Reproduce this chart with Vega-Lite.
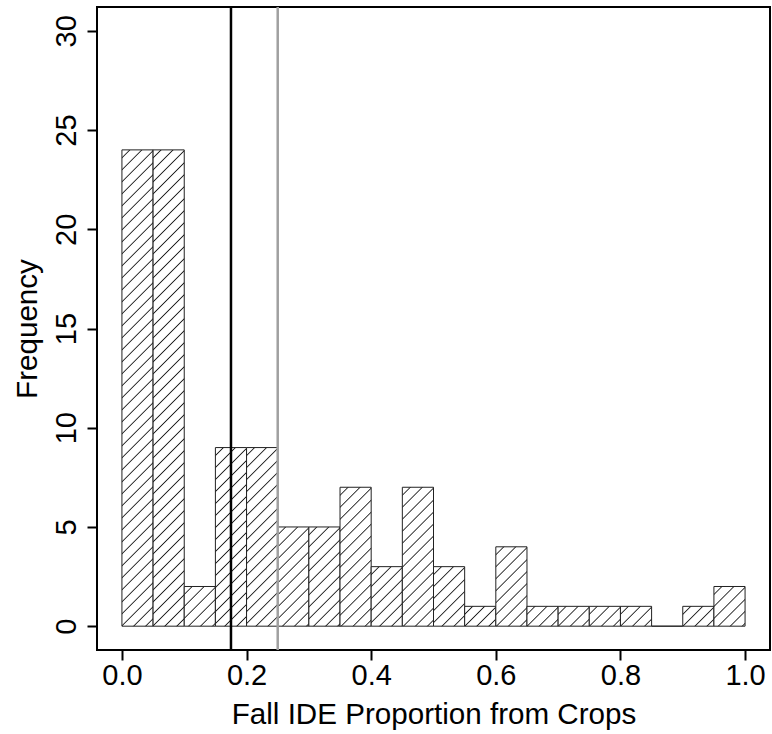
{
  "$schema": "https://vega.github.io/schema/vega-lite/v6.json",
  "autosize": {"type": "none"},
  "width": 673,
  "height": 643,
  "padding": {"left": 97, "top": 7, "right": 2, "bottom": 84},
  "background": "white",
  "config": {
    "view": {"stroke": "black", "strokeWidth": 2},
    "font": "Liberation Sans",
    "axis": {"grid": false, "domain": false, "tickColor": "black", "tickWidth": 2, "tickSize": 10, "labelColor": "black", "titleColor": "black", "labelFontSize": 29, "titleFontSize": 29.6, "titleFontWeight": "normal", "labelFont": "Liberation Sans", "titleFont": "Liberation Sans"}
  },
  "datasets": {
    "hist": [
      {"bin_start": 0.00, "bin_end": 0.05, "count": 24},
      {"bin_start": 0.05, "bin_end": 0.10, "count": 24},
      {"bin_start": 0.10, "bin_end": 0.15, "count": 2},
      {"bin_start": 0.15, "bin_end": 0.20, "count": 9},
      {"bin_start": 0.20, "bin_end": 0.25, "count": 9},
      {"bin_start": 0.25, "bin_end": 0.30, "count": 5},
      {"bin_start": 0.30, "bin_end": 0.35, "count": 5},
      {"bin_start": 0.35, "bin_end": 0.40, "count": 7},
      {"bin_start": 0.40, "bin_end": 0.45, "count": 3},
      {"bin_start": 0.45, "bin_end": 0.50, "count": 7},
      {"bin_start": 0.50, "bin_end": 0.55, "count": 3},
      {"bin_start": 0.55, "bin_end": 0.60, "count": 1},
      {"bin_start": 0.60, "bin_end": 0.65, "count": 4},
      {"bin_start": 0.65, "bin_end": 0.70, "count": 1},
      {"bin_start": 0.70, "bin_end": 0.75, "count": 1},
      {"bin_start": 0.75, "bin_end": 0.80, "count": 1},
      {"bin_start": 0.80, "bin_end": 0.85, "count": 1},
      {"bin_start": 0.85, "bin_end": 0.90, "count": 0},
      {"bin_start": 0.90, "bin_end": 0.95, "count": 1},
      {"bin_start": 0.95, "bin_end": 1.00, "count": 2}
    ],
    "marks": [
      {"proportion": 0.175, "line": "black"},
      {"proportion": 0.25, "line": "gray"}
    ]
  },
  "layer": [
    {
      "data": {"name": "hist"},
      "mark": {"type": "bar", "stroke": "#222", "strokeWidth": 1},
      "encoding": {
        "x": {"field": "bin_start", "type": "quantitative", "scale": {"domain": [-0.04, 1.04], "nice": false, "zero": false},
          "axis": {"values": [0, 0.2, 0.4, 0.6, 0.8, 1.0], "format": ".1f", "labelBaseline": "alphabetic", "labelPadding": 24, "title": "Fall IDE Proportion from Crops", "titleBaseline": "alphabetic", "titlePadding": 33}},
        "x2": {"field": "bin_end"},
        "y": {"field": "count", "type": "quantitative", "scale": {"domain": [-1.2, 31.2], "nice": false, "zero": false},
          "axis": {"values": [0, 5, 10, 15, 20, 25, 30], "labelAngle": -90, "labelAlign": "center", "labelBaseline": "alphabetic", "labelPadding": 12, "title": "Frequency", "titleAngle": -90, "titleBaseline": "alphabetic", "titlePadding": 16}},
        "y2": {"datum": 0},
        "fill": {
          "condition": [
            {"test": "datum.count === 24", "value": {"gradient": "linear", "x1": 0, "y1": 0, "x2": 0.069745, "y2": 1.0662, "stops": [
{"offset":0.0132,"color":"#fff"},{"offset":0.0157,"color":"#222"},{"offset":0.0182,"color":"#fff"},
{"offset":0.0367,"color":"#fff"},{"offset":0.0392,"color":"#222"},{"offset":0.0417,"color":"#fff"},
{"offset":0.0602,"color":"#fff"},{"offset":0.0627,"color":"#222"},{"offset":0.0652,"color":"#fff"},
{"offset":0.0838,"color":"#fff"},{"offset":0.0863,"color":"#222"},{"offset":0.0888,"color":"#fff"},
{"offset":0.1073,"color":"#fff"},{"offset":0.1098,"color":"#222"},{"offset":0.1123,"color":"#fff"},
{"offset":0.1308,"color":"#fff"},{"offset":0.1333,"color":"#222"},{"offset":0.1358,"color":"#fff"},
{"offset":0.1544,"color":"#fff"},{"offset":0.1569,"color":"#222"},{"offset":0.1594,"color":"#fff"},
{"offset":0.1779,"color":"#fff"},{"offset":0.1804,"color":"#222"},{"offset":0.1829,"color":"#fff"},
{"offset":0.2014,"color":"#fff"},{"offset":0.2039,"color":"#222"},{"offset":0.2064,"color":"#fff"},
{"offset":0.2250,"color":"#fff"},{"offset":0.2275,"color":"#222"},{"offset":0.2300,"color":"#fff"},
{"offset":0.2485,"color":"#fff"},{"offset":0.2510,"color":"#222"},{"offset":0.2535,"color":"#fff"},
{"offset":0.2720,"color":"#fff"},{"offset":0.2745,"color":"#222"},{"offset":0.2770,"color":"#fff"},
{"offset":0.2955,"color":"#fff"},{"offset":0.2980,"color":"#222"},{"offset":0.3005,"color":"#fff"},
{"offset":0.3191,"color":"#fff"},{"offset":0.3216,"color":"#222"},{"offset":0.3241,"color":"#fff"},
{"offset":0.3426,"color":"#fff"},{"offset":0.3451,"color":"#222"},{"offset":0.3476,"color":"#fff"},
{"offset":0.3661,"color":"#fff"},{"offset":0.3686,"color":"#222"},{"offset":0.3711,"color":"#fff"},
{"offset":0.3897,"color":"#fff"},{"offset":0.3922,"color":"#222"},{"offset":0.3947,"color":"#fff"},
{"offset":0.4132,"color":"#fff"},{"offset":0.4157,"color":"#222"},{"offset":0.4182,"color":"#fff"},
{"offset":0.4367,"color":"#fff"},{"offset":0.4392,"color":"#222"},{"offset":0.4417,"color":"#fff"},
{"offset":0.4602,"color":"#fff"},{"offset":0.4627,"color":"#222"},{"offset":0.4652,"color":"#fff"},
{"offset":0.4838,"color":"#fff"},{"offset":0.4863,"color":"#222"},{"offset":0.4888,"color":"#fff"},
{"offset":0.5073,"color":"#fff"},{"offset":0.5098,"color":"#222"},{"offset":0.5123,"color":"#fff"},
{"offset":0.5308,"color":"#fff"},{"offset":0.5333,"color":"#222"},{"offset":0.5358,"color":"#fff"},
{"offset":0.5544,"color":"#fff"},{"offset":0.5569,"color":"#222"},{"offset":0.5594,"color":"#fff"},
{"offset":0.5779,"color":"#fff"},{"offset":0.5804,"color":"#222"},{"offset":0.5829,"color":"#fff"},
{"offset":0.6014,"color":"#fff"},{"offset":0.6039,"color":"#222"},{"offset":0.6064,"color":"#fff"},
{"offset":0.6250,"color":"#fff"},{"offset":0.6275,"color":"#222"},{"offset":0.6300,"color":"#fff"},
{"offset":0.6485,"color":"#fff"},{"offset":0.6510,"color":"#222"},{"offset":0.6535,"color":"#fff"},
{"offset":0.6720,"color":"#fff"},{"offset":0.6745,"color":"#222"},{"offset":0.6770,"color":"#fff"},
{"offset":0.6955,"color":"#fff"},{"offset":0.6980,"color":"#222"},{"offset":0.7005,"color":"#fff"},
{"offset":0.7191,"color":"#fff"},{"offset":0.7216,"color":"#222"},{"offset":0.7241,"color":"#fff"},
{"offset":0.7426,"color":"#fff"},{"offset":0.7451,"color":"#222"},{"offset":0.7476,"color":"#fff"},
{"offset":0.7661,"color":"#fff"},{"offset":0.7686,"color":"#222"},{"offset":0.7711,"color":"#fff"},
{"offset":0.7897,"color":"#fff"},{"offset":0.7922,"color":"#222"},{"offset":0.7947,"color":"#fff"},
{"offset":0.8132,"color":"#fff"},{"offset":0.8157,"color":"#222"},{"offset":0.8182,"color":"#fff"},
{"offset":0.8367,"color":"#fff"},{"offset":0.8392,"color":"#222"},{"offset":0.8417,"color":"#fff"},
{"offset":0.8602,"color":"#fff"},{"offset":0.8627,"color":"#222"},{"offset":0.8652,"color":"#fff"},
{"offset":0.8838,"color":"#fff"},{"offset":0.8863,"color":"#222"},{"offset":0.8888,"color":"#fff"},
{"offset":0.9073,"color":"#fff"},{"offset":0.9098,"color":"#222"},{"offset":0.9123,"color":"#fff"},
{"offset":0.9308,"color":"#fff"},{"offset":0.9333,"color":"#222"},{"offset":0.9358,"color":"#fff"},
{"offset":0.9544,"color":"#fff"},{"offset":0.9569,"color":"#222"},{"offset":0.9594,"color":"#fff"},
{"offset":0.9779,"color":"#fff"},{"offset":0.9804,"color":"#222"},{"offset":0.9829,"color":"#fff"}
            ]}},
            {"test": "datum.count === 9", "value": {"gradient": "linear", "x1": 0, "y1": 0, "x2": 0.4834, "y2": 2.77113, "stops": [
{"offset":0.0132,"color":"#fff"},{"offset":0.0157,"color":"#222"},{"offset":0.0182,"color":"#fff"},
{"offset":0.0367,"color":"#fff"},{"offset":0.0392,"color":"#222"},{"offset":0.0417,"color":"#fff"},
{"offset":0.0602,"color":"#fff"},{"offset":0.0627,"color":"#222"},{"offset":0.0652,"color":"#fff"},
{"offset":0.0838,"color":"#fff"},{"offset":0.0863,"color":"#222"},{"offset":0.0888,"color":"#fff"},
{"offset":0.1073,"color":"#fff"},{"offset":0.1098,"color":"#222"},{"offset":0.1123,"color":"#fff"},
{"offset":0.1308,"color":"#fff"},{"offset":0.1333,"color":"#222"},{"offset":0.1358,"color":"#fff"},
{"offset":0.1544,"color":"#fff"},{"offset":0.1569,"color":"#222"},{"offset":0.1594,"color":"#fff"},
{"offset":0.1779,"color":"#fff"},{"offset":0.1804,"color":"#222"},{"offset":0.1829,"color":"#fff"},
{"offset":0.2014,"color":"#fff"},{"offset":0.2039,"color":"#222"},{"offset":0.2064,"color":"#fff"},
{"offset":0.2250,"color":"#fff"},{"offset":0.2275,"color":"#222"},{"offset":0.2300,"color":"#fff"},
{"offset":0.2485,"color":"#fff"},{"offset":0.2510,"color":"#222"},{"offset":0.2535,"color":"#fff"},
{"offset":0.2720,"color":"#fff"},{"offset":0.2745,"color":"#222"},{"offset":0.2770,"color":"#fff"},
{"offset":0.2955,"color":"#fff"},{"offset":0.2980,"color":"#222"},{"offset":0.3005,"color":"#fff"},
{"offset":0.3191,"color":"#fff"},{"offset":0.3216,"color":"#222"},{"offset":0.3241,"color":"#fff"},
{"offset":0.3426,"color":"#fff"},{"offset":0.3451,"color":"#222"},{"offset":0.3476,"color":"#fff"},
{"offset":0.3661,"color":"#fff"},{"offset":0.3686,"color":"#222"},{"offset":0.3711,"color":"#fff"},
{"offset":0.3897,"color":"#fff"},{"offset":0.3922,"color":"#222"},{"offset":0.3947,"color":"#fff"},
{"offset":0.4132,"color":"#fff"},{"offset":0.4157,"color":"#222"},{"offset":0.4182,"color":"#fff"}
            ]}},
            {"test": "datum.count === 7", "value": {"gradient": "linear", "x1": 0, "y1": 0, "x2": 0.78394, "y2": 3.49537, "stops": [
{"offset":0.0132,"color":"#fff"},{"offset":0.0157,"color":"#222"},{"offset":0.0182,"color":"#fff"},
{"offset":0.0367,"color":"#fff"},{"offset":0.0392,"color":"#222"},{"offset":0.0417,"color":"#fff"},
{"offset":0.0602,"color":"#fff"},{"offset":0.0627,"color":"#222"},{"offset":0.0652,"color":"#fff"},
{"offset":0.0838,"color":"#fff"},{"offset":0.0863,"color":"#222"},{"offset":0.0888,"color":"#fff"},
{"offset":0.1073,"color":"#fff"},{"offset":0.1098,"color":"#222"},{"offset":0.1123,"color":"#fff"},
{"offset":0.1308,"color":"#fff"},{"offset":0.1333,"color":"#222"},{"offset":0.1358,"color":"#fff"},
{"offset":0.1544,"color":"#fff"},{"offset":0.1569,"color":"#222"},{"offset":0.1594,"color":"#fff"},
{"offset":0.1779,"color":"#fff"},{"offset":0.1804,"color":"#222"},{"offset":0.1829,"color":"#fff"},
{"offset":0.2014,"color":"#fff"},{"offset":0.2039,"color":"#222"},{"offset":0.2064,"color":"#fff"},
{"offset":0.2250,"color":"#fff"},{"offset":0.2275,"color":"#222"},{"offset":0.2300,"color":"#fff"},
{"offset":0.2485,"color":"#fff"},{"offset":0.2510,"color":"#222"},{"offset":0.2535,"color":"#fff"},
{"offset":0.2720,"color":"#fff"},{"offset":0.2745,"color":"#222"},{"offset":0.2770,"color":"#fff"},
{"offset":0.2955,"color":"#fff"},{"offset":0.2980,"color":"#222"},{"offset":0.3005,"color":"#fff"},
{"offset":0.3191,"color":"#fff"},{"offset":0.3216,"color":"#222"},{"offset":0.3241,"color":"#fff"},
{"offset":0.3426,"color":"#fff"},{"offset":0.3451,"color":"#222"},{"offset":0.3476,"color":"#fff"}
            ]}},
            {"test": "datum.count === 5", "value": {"gradient": "linear", "x1": 0, "y1": 0, "x2": 1.46893, "y2": 4.6783, "stops": [
{"offset":0.0132,"color":"#fff"},{"offset":0.0157,"color":"#222"},{"offset":0.0182,"color":"#fff"},
{"offset":0.0367,"color":"#fff"},{"offset":0.0392,"color":"#222"},{"offset":0.0417,"color":"#fff"},
{"offset":0.0602,"color":"#fff"},{"offset":0.0627,"color":"#222"},{"offset":0.0652,"color":"#fff"},
{"offset":0.0838,"color":"#fff"},{"offset":0.0863,"color":"#222"},{"offset":0.0888,"color":"#fff"},
{"offset":0.1073,"color":"#fff"},{"offset":0.1098,"color":"#222"},{"offset":0.1123,"color":"#fff"},
{"offset":0.1308,"color":"#fff"},{"offset":0.1333,"color":"#222"},{"offset":0.1358,"color":"#fff"},
{"offset":0.1544,"color":"#fff"},{"offset":0.1569,"color":"#222"},{"offset":0.1594,"color":"#fff"},
{"offset":0.1779,"color":"#fff"},{"offset":0.1804,"color":"#222"},{"offset":0.1829,"color":"#fff"},
{"offset":0.2014,"color":"#fff"},{"offset":0.2039,"color":"#222"},{"offset":0.2064,"color":"#fff"},
{"offset":0.2250,"color":"#fff"},{"offset":0.2275,"color":"#222"},{"offset":0.2300,"color":"#fff"},
{"offset":0.2485,"color":"#fff"},{"offset":0.2510,"color":"#222"},{"offset":0.2535,"color":"#fff"}
            ]}},
            {"test": "datum.count === 4", "value": {"gradient": "linear", "x1": 0, "y1": 0, "x2": 2.18491, "y2": 5.56688, "stops": [
{"offset":0.0132,"color":"#fff"},{"offset":0.0157,"color":"#222"},{"offset":0.0182,"color":"#fff"},
{"offset":0.0367,"color":"#fff"},{"offset":0.0392,"color":"#222"},{"offset":0.0417,"color":"#fff"},
{"offset":0.0602,"color":"#fff"},{"offset":0.0627,"color":"#222"},{"offset":0.0652,"color":"#fff"},
{"offset":0.0838,"color":"#fff"},{"offset":0.0863,"color":"#222"},{"offset":0.0888,"color":"#fff"},
{"offset":0.1073,"color":"#fff"},{"offset":0.1098,"color":"#222"},{"offset":0.1123,"color":"#fff"},
{"offset":0.1308,"color":"#fff"},{"offset":0.1333,"color":"#222"},{"offset":0.1358,"color":"#fff"},
{"offset":0.1544,"color":"#fff"},{"offset":0.1569,"color":"#222"},{"offset":0.1594,"color":"#fff"},
{"offset":0.1779,"color":"#fff"},{"offset":0.1804,"color":"#222"},{"offset":0.1829,"color":"#fff"},
{"offset":0.2014,"color":"#fff"},{"offset":0.2039,"color":"#222"},{"offset":0.2064,"color":"#fff"}
            ]}},
            {"test": "datum.count === 3", "value": {"gradient": "linear", "x1": 0, "y1": 0, "x2": 3.519, "y2": 6.72445, "stops": [
{"offset":0.0132,"color":"#fff"},{"offset":0.0157,"color":"#222"},{"offset":0.0182,"color":"#fff"},
{"offset":0.0367,"color":"#fff"},{"offset":0.0392,"color":"#222"},{"offset":0.0417,"color":"#fff"},
{"offset":0.0602,"color":"#fff"},{"offset":0.0627,"color":"#222"},{"offset":0.0652,"color":"#fff"},
{"offset":0.0838,"color":"#fff"},{"offset":0.0863,"color":"#222"},{"offset":0.0888,"color":"#fff"},
{"offset":0.1073,"color":"#fff"},{"offset":0.1098,"color":"#222"},{"offset":0.1123,"color":"#fff"},
{"offset":0.1308,"color":"#fff"},{"offset":0.1333,"color":"#222"},{"offset":0.1358,"color":"#fff"},
{"offset":0.1544,"color":"#fff"},{"offset":0.1569,"color":"#222"},{"offset":0.1594,"color":"#fff"}
            ]}},
            {"test": "datum.count === 2", "value": {"gradient": "linear", "x1": 0, "y1": 0, "x2": 6.24069, "y2": 7.95023, "stops": [
{"offset":0.0132,"color":"#fff"},{"offset":0.0157,"color":"#222"},{"offset":0.0182,"color":"#fff"},
{"offset":0.0367,"color":"#fff"},{"offset":0.0392,"color":"#222"},{"offset":0.0417,"color":"#fff"},
{"offset":0.0602,"color":"#fff"},{"offset":0.0627,"color":"#222"},{"offset":0.0652,"color":"#fff"},
{"offset":0.0838,"color":"#fff"},{"offset":0.0863,"color":"#222"},{"offset":0.0888,"color":"#fff"},
{"offset":0.1073,"color":"#fff"},{"offset":0.1098,"color":"#222"},{"offset":0.1123,"color":"#fff"},
{"offset":0.1308,"color":"#fff"},{"offset":0.1333,"color":"#222"},{"offset":0.1358,"color":"#fff"}
            ]}},
            {"test": "datum.count === 1", "value": {"gradient": "linear", "x1": 0, "y1": 0, "x2": 11.6445, "y2": 7.41716, "stops": [
{"offset":0.0132,"color":"#fff"},{"offset":0.0157,"color":"#222"},{"offset":0.0182,"color":"#fff"},
{"offset":0.0367,"color":"#fff"},{"offset":0.0392,"color":"#222"},{"offset":0.0417,"color":"#fff"},
{"offset":0.0602,"color":"#fff"},{"offset":0.0627,"color":"#222"},{"offset":0.0652,"color":"#fff"},
{"offset":0.0838,"color":"#fff"},{"offset":0.0863,"color":"#222"},{"offset":0.0888,"color":"#fff"}
            ]}}
          ],
          "value": "white"
        }
      }
    },
    {
      "data": {"name": "marks"},
      "mark": {"type": "rule", "strokeWidth": 2.5},
      "encoding": {
        "x": {"field": "proportion", "type": "quantitative"},
        "color": {"field": "line", "type": "nominal", "scale": {"domain": ["black", "gray"], "range": ["#000000", "#a0a0a0"]}, "legend": null}
      }
    }
  ]
}
